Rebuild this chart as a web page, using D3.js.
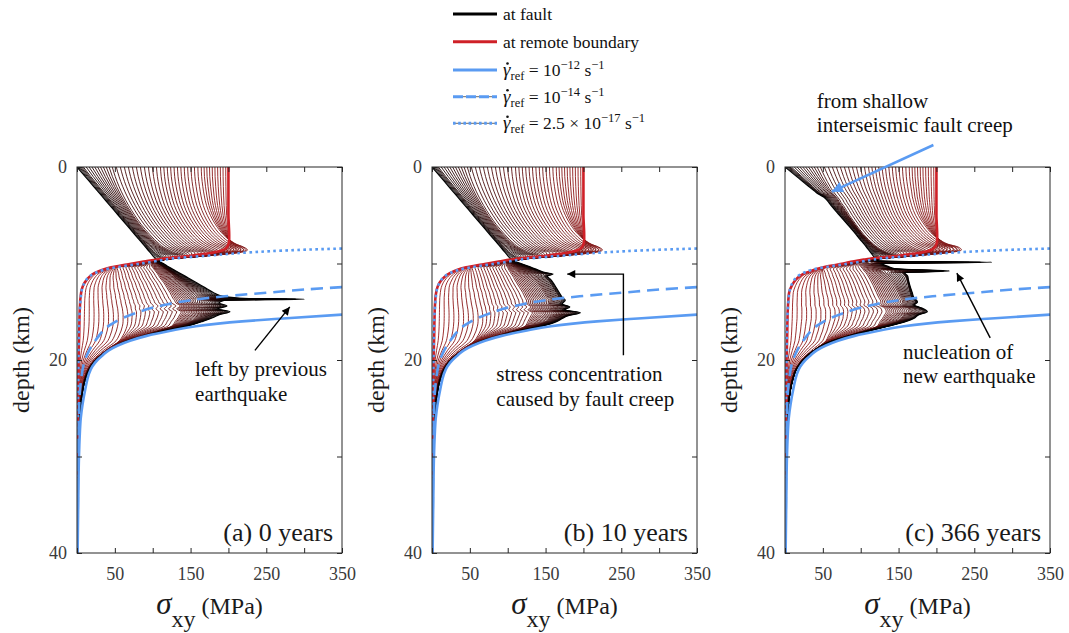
<!DOCTYPE html>
<html>
<head>
<meta charset="utf-8">
<script src="https://cdn.jsdelivr.net/npm/d3@7"></script>
<style>
  body { margin: 0; background: #fff; }
  svg { display: block; }
  text { font-family: "Liberation Serif", "Times New Roman", serif; }
</style>
</head>
<body>
<svg id="chart" width="1069" height="633"></svg>
<script>
// ---------------- Axis ticks ----------------
const stressTicks = [0, 50, 100, 150, 200, 250, 300, 350];
const stressTickLabels = [50, 150, 250, 350];
const depthTicks = [0, 10, 20, 30, 40];
const depthTickLabels = [0, 20, 40];

// ---------------- Strength curves (depth km, stress MPa) ----------------
const strength12Depth = [15.3,15.7,16.0,16.5,17.0,17.5,18.0,18.5,19.0,19.5,20.0,20.7,21.5,23.0,24.5,26.0,28.0,30.0,35.0,40.0];
const strength12Stress = [350,272,218,157,122,92,70,54,42,34,27,20,15.5,11,7.5,5,3.5,2.6,1.6,0.8];
const strength14Depth = [12.45,12.7,13.0,13.4,13.8,14.3,15.2,16.3,17.9,19.7,22,25.5,30,40];
const strength14Stress = [350,300,255,195,150,115,75,45,25,12,5.5,2.5,1.5,0.8];
const strength17Depth = [8.45,8.6,8.85,9.2,9.5,9.8,10.0,10.5,11.2,12.0,12.7,14.0,15.0,17.0,20.0,24.0,30.0,40.0];
const strength17Stress = [350,290,228,171,125,101,85,44,19,10,6.5,4.5,3.5,2.5,2,1.4,0.9,0.5];

// ---------------- Stress profiles, panel (a) 0 years ----------------
// fault, four profiles between fault and remote boundary, remote boundary
const depthA = [0,1,2,3,4,5,6,7, 7.5,8,8.3,8.6,8.9,9.2,9.5,9.8, 10.1,10.4,10.7,11,11.5,12,12.5,13, 13.3,13.6,13.7,13.8,14.1,14.4,14.7,15, 15.3,15.6,16,16.5,17,17.5,18,19, 20,21,22,24,27,30,35,40];
const faultA  = [0,10.9,21.8,32.7,43.6,54.5,65.4,76.3, 81.8,87.2,90.5,93.7,97,100.3,103.6,109, 116,122,129,136,147,158,169,180, 188,215,300,195,188,198,186,202, 188,180,166,145,115,90,68,42, 25,16,11,6,3,1.8,1,0.5];
const profA1  = [8,18,28.5,39,49.5,60,70.5,81, 86.5,92,95.5,99,103,108,114,106, 112,118,124,130,140,150,160,169, 176,195,245,186,179,189,178,191, 180,172,161,143,114,89,67,42, 25,16,11,6,3,1.8,1,0.5];
const profA2  = [45,49,54,60,67,75,84,95, 101,108,113,120,128,138,124,103, 109,114,119,124,130,137,143,149, 152,156,158,157,158,164,158,166, 161,157,151,136,111,88,67,41, 24.5,15.5,10.5,5.5,2.8,1.7,1,0.5];
const profA3  = [110,111,113,116,120,126,134,144, 150,158,164,172,182,170,124,99, 98,100,103,106,110,115,119,123, 125,127,128,129,131,137,132,138, 136,134,130,125,106,85,65,40, 24,15,10,5.5,2.8,1.7,1,0.5];
const profA4  = [165,165.5,167,169,172,177,184,194, 201,211,221,226,212,170,124,99, 76,52,53,54,55,57,58,60, 61,61.5,62,62.5,63,64,65,65.5, 66,66,66,65,63,60,56,38, 23,14,9.5,5,2.5,1.5,1,0.5];
const remoteA = [200,200,200,200,200,200,200.5,201, 201,200,198,193,178,150,112,88, 66,45,32,23,15,10,7,5.5, 5,4.6,4.4,4.3,4.1,3.9,3.7,3.5, 3.4,3.3,3.2,3.1,3,2.9,2.7,2.4, 2,1.8,1.6,1.3,1,0.8,0.6,0.4];

// ---------------- Stress profiles, panel (b) 10 years ----------------
const depthB = [0,1,2,3,4,5,6,7, 7.5,8,8.3,8.6,8.9,9.2,9.5,9.8, 10.1,10.4,10.7,10.95,11.1,11.3,11.6,12, 12.5,13,13.5,13.8,14.2,14.5,14.8,15.1, 15.4,15.7,16,16.5,17,17.5,18,19, 20,21,22,24,27,30,35,40];
const faultB  = [0,10.9,21.8,32.7,43.6,54.5,65.4,76.3, 81.8,87.2,90.5,93.7,97,100.3,103.6,110, 121,131,141,150,160,152,156,160, 164,168,172,176,172,182,175,196, 180,172,165,145,115,90,68,42, 25,16,11,6,3,1.8,1,0.5];
const profB1  = [8,18,28.5,39,49.5,60,70.5,81, 86.5,92,95.5,99,103,108,114,106, 116,126,136,144,150,148,152,156, 160,164,168,171,168,177,171,186, 176,168,161,143,114,89,67,42, 25,16,11,6,3,1.8,1,0.5];
const profB2  = [45,49,54,60,67,75,84,95, 101,108,113,120,128,138,124,103, 108,114,120,125,128,131,135,139, 144,148,152,155,154,160,155,164, 159,154,150,136,111,88,67,41, 24.5,15.5,10.5,5.5,2.8,1.7,1,0.5];
const profB3  = [110,111,113,116,120,126,134,144, 150,158,164,172,182,170,124,99, 98,100,102,104,105,107,109,112, 116,120,123,125,126,131,127,133, 131,129,127,123,106,85,65,40, 24,15,10,5.5,2.8,1.7,1,0.5];
const profB4  = [165,165.5,167,169,172,177,184,194, 201,211,221,226,212,170,124,99, 76,52,53,54,54.5,55,56,57, 58,60,61,62,63,64,65,65.5, 66,66,66,65,63,60,56,38, 23,14,9.5,5,2.5,1.5,1,0.5];
const remoteB = [200,200,200,200,200,200,200.5,201, 201,200,198,193,178,150,112,88, 66,45,32,25,21.5,18,14,10, 7,5.5,4.6,4.3,4,3.8,3.6,3.5, 3.4,3.3,3.2,3.1,3,2.9,2.7,2.4, 2,1.8,1.6,1.3,1,0.8,0.6,0.4];

// ---------------- Stress profiles, panel (c) 366 years ----------------
const depthC = [0,1,2,2.5,2.8,3.1,3.4,3.7, 4,5,6,7,7.5,8,8.3,8.6, 8.9,9.2,9.5,9.6,9.75,9.88,10,10.3, 10.55,10.78,10.95,11.3,11.7,12.3,13,13.5, 14,14.3,14.6,15,15.3,15.7,16,16.5, 17,17.5,18,19,20,21,22,24, 27,30,35,40];
const faultC  = [0,15.5,31,39,44,51,55,58, 61,72,83,94,99,104.5,107.5,110.5, 113.5,116.5,119.5,121,124,273,128,136, 146,217,158,162,163,165,168,170, 175,171,180,188,177,170,160,136, 110,86,64,39,24,15,10.5,5.5, 3,1.8,1,0.5];
const profC1  = [8,22,36,43,48,55,59,62, 65,76,87,98,103,109,112,116, 120,124,122,116,118,200,124,132, 142,180,155,159,161,163,165,167, 172,168,176,182,174,166,157,134, 109,85,64,39,24,15,10.5,5.5, 3,1.8,1,0.5];
const profC2  = [45,51,58,62,65,68,71,73, 76,84,93,103,109,116,121,127, 135,145,124,116,106,109,112,118, 123,128,131,136,140,145,150,153, 156,153,161,164,158,153,148,131, 107,84,63,38,23.5,14.5,10,5.5, 2.8,1.7,1,0.5];
const profC3  = [110,112,115,117,118.5,120,121.5,123, 124.5,130,138,148,154,162,168,176, 186,170,124,116,104,96,97,100, 103,105,107,110,113,117,121,124, 127,125,132,134,132,129,126,122, 104,83,63,38,23,14,10,5.5, 2.8,1.7,1,0.5];
const profC4  = [165,165.5,167,168,168.5,169,170,171, 172,177,185,196,204,216,230,234, 214,170,124,116,104,95,86,60, 50,51,52,53,55,57,59,61, 62,62,64,65,65,65,64,62, 60,57,54,38,23,14,9.5,5, 2.5,1.5,1,0.5];
const remoteC = [200,200,200,200,200,200,200,200, 200,200,200.5,201,201,200,198,193, 178,150,112,104,93,84,77,56, 43,34,28,19.5,14,9,5.5,4.7, 4.2,4,3.8,3.5,3.4,3.3,3.2,3.1, 3,2.9,2.7,2.4,2,1.8,1.6,1.3, 1,0.8,0.6,0.4];

// position of each profile between fault (0) and remote boundary (1)
const profileWeights = [0, 0.1, 0.3, 0.55, 0.8, 1];
const PROFILE_COUNT = 50;

const panelLabels = ['(a) 0 years', '(b) 10 years', '(c) 366 years'];

// ---------------- Layout ----------------
const TOP = 167, BOTTOM = 553, PW = 265;
const panelLefts = [77, 432, 785];
const BLUE = '#5a9bf2', RED = '#cf2027';
const SERIF = '"Liberation Serif", "Times New Roman", serif';

const svg = d3.select('#chart');
const defs = svg.append('defs');
function marker(id, color, w, h) {
  defs.append('marker').attr('id', id)
    .attr('viewBox', '0 0 10 10').attr('refX', 10).attr('refY', 5)
    .attr('markerWidth', w).attr('markerHeight', h)
    .attr('markerUnits', 'userSpaceOnUse').attr('orient', 'auto')
    .append('path').attr('d', 'M0,0 L10,5 L0,10 Z').attr('fill', color);
}
marker('headBlack', '#000', 11, 8);
marker('headBlue', BLUE, 15, 11);

const panels = [
  { depth: depthA, keys: [faultA, profA1, profA2, profA3, profA4, remoteA],
    notes: [
      { lines: ['left by previous', 'earthquake'], at: [156, 21.7], step: 2.55 }
    ],
    arrows: [ { pts: [[235, 19.0], [281, 14.5]], color: '#000', width: 1.4, head: 'headBlack' } ] },
  { depth: depthB, keys: [faultB, profB1, profB2, profB3, profB4, remoteB],
    notes: [
      { lines: ['stress concentration', 'caused by fault creep'], at: [85, 22.2], step: 2.6 }
    ],
    arrows: [ { pts: [[252.8, 19.5], [252.8, 11.1], [178.6, 11.1]], color: '#000', width: 1.4, head: 'headBlack' } ] },
  { depth: depthC, keys: [faultC, profC1, profC2, profC3, profC4, remoteC],
    notes: [
      { lines: ['from shallow', 'interseismic fault creep'], at: [42, -6.1], step: 2.5 },
      { lines: ['nucleation of', 'new earthquake'], at: [156, 19.9], step: 2.5 }
    ],
    arrows: [
      { pts: [[196, -2.28], [61.8, 2.56]], color: BLUE, width: 2.5, head: 'headBlue' },
      { pts: [[271, 17.7], [227, 11.0]], color: '#000', width: 1.4, head: 'headBlack' }
    ] }
];

const profileColor = d3.interpolateRgb('#000000', '#981c1c');

panels.forEach((p, pi) => {
  const left = panelLefts[pi];
  const x = d3.scaleLinear().domain([0, 350]).range([left, left + PW]);
  const y = d3.scaleLinear().domain([0, 40]).range([TOP, BOTTOM]);
  const g = svg.append('g');

  defs.append('clipPath').attr('id', 'clip' + pi)
    .append('rect').attr('x', left).attr('y', TOP).attr('width', PW).attr('height', BOTTOM - TOP);
  const plot = g.append('g').attr('clip-path', `url(#clip${pi})`);

  const line = d3.line().x(d => x(d[1])).y(d => y(d[0])).curve(d3.curveMonotoneY);

  // family of profiles from remote boundary towards the fault (dark drawn last)
  for (let i = PROFILE_COUNT - 2; i >= 0; i--) {
    const k = i / (PROFILE_COUNT - 1);
    let j = 0;
    while (j < profileWeights.length - 2 && k > profileWeights[j + 1]) j++;
    const t = (k - profileWeights[j]) / (profileWeights[j + 1] - profileWeights[j]);
    const a = p.keys[j], b = p.keys[j + 1];
    const pts = p.depth.map((z, m) => [z, a[m] * (1 - t) + b[m] * t]);
    plot.append('path').attr('d', line(pts))
      .attr('fill', 'none').attr('stroke', profileColor(Math.pow(k, 0.75)))
      .attr('stroke-width', i === 0 ? 1.2 : 0.9);
  }
  // remote boundary profile
  plot.append('path').attr('d', line(p.depth.map((z, m) => [z, p.keys[5][m]])))
    .attr('fill', 'none').attr('stroke', RED).attr('stroke-width', 2.6);

  // strength curves
  const strength = [
    { d: strength12Depth, s: strength12Stress, dash: null },
    { d: strength14Depth, s: strength14Stress, dash: '12,7' },
    { d: strength17Depth, s: strength17Stress, dash: '2.6,3.4' }
  ];
  strength.forEach(c => {
    plot.append('path').attr('d', line(c.d.map((z, m) => [z, c.s[m]])))
      .attr('fill', 'none').attr('stroke', BLUE).attr('stroke-width', 2.6)
      .attr('stroke-dasharray', c.dash);
  });

  // axes box and ticks
  const styleAxis = sel => {
    sel.select('.domain').remove();
    sel.selectAll('line').attr('stroke', '#262626');
    sel.selectAll('text').attr('font-family', SERIF)
      .attr('font-size', 18).attr('fill', '#3a3a3a');
    sel.attr('font-family', null).attr('font-size', null);
  };
  g.append('g').attr('transform', `translate(0,${BOTTOM})`)
    .call(d3.axisBottom(x).tickValues(stressTicks).tickSizeInner(-5).tickSizeOuter(0).tickPadding(14)
      .tickFormat(v => stressTickLabels.includes(v) ? v : ''))
    .call(styleAxis);
  g.append('g').attr('transform', `translate(0,${TOP})`)
    .call(d3.axisTop(x).tickValues(stressTicks).tickSizeInner(-5).tickSizeOuter(0).tickFormat(''))
    .call(styleAxis);
  g.append('g').attr('transform', `translate(${left},0)`)
    .call(d3.axisLeft(y).tickValues(depthTicks).tickSizeInner(-5).tickSizeOuter(0).tickPadding(10)
      .tickFormat(v => depthTickLabels.includes(v) ? v : ''))
    .call(styleAxis);
  g.append('g').attr('transform', `translate(${left + PW},0)`)
    .call(d3.axisRight(y).tickValues(depthTicks).tickSizeInner(-5).tickSizeOuter(0).tickFormat(''))
    .call(styleAxis);
  g.append('rect').attr('x', left).attr('y', TOP).attr('width', PW).attr('height', BOTTOM - TOP)
    .attr('fill', 'none').attr('stroke', '#262626').attr('stroke-width', 1);

  // panel label
  g.append('text').attr('x', x(350) - 9).attr('y', 541).attr('font-family', SERIF)
    .attr('text-anchor', 'end').attr('font-size', 26).attr('fill', '#1a1a1a')
    .text(panelLabels[pi]);

  // depth label
  g.append('text').attr('transform', `translate(${left - 48},360) rotate(-90)`)
    .attr('font-family', SERIF)
    .attr('text-anchor', 'middle').attr('font-size', 24).attr('fill', '#1a1a1a')
    .text('depth (km)');

  // stress label
  const xl = g.append('text').attr('x', left + PW / 2).attr('y', 614).attr('font-family', SERIF)
    .attr('text-anchor', 'middle').attr('fill', '#1a1a1a');
  xl.append('tspan').attr('font-size', 31).attr('font-style', 'italic').text('σ');
  xl.append('tspan').attr('font-size', 24).attr('dy', 13).text('xy');
  xl.append('tspan').attr('font-size', 24).attr('dy', -13).text(' (MPa)');

  // annotations
  p.arrows.forEach(a => {
    g.append('path')
      .attr('d', d3.line().x(d => x(d[0])).y(d => y(d[1]))(a.pts))
      .attr('fill', 'none').attr('stroke', a.color).attr('stroke-width', a.width)
      .attr('marker-end', `url(#${a.head})`);
  });
  p.notes.forEach(n => {
    n.lines.forEach((t, li) => {
      g.append('text').attr('x', x(n.at[0])).attr('y', y(n.at[1] + li * n.step))
        .attr('font-family', SERIF)
        .attr('font-size', 21).attr('fill', '#111').text(t);
    });
  });
});

// ---------------- Legend ----------------
const legendRows = [
  { y: 14, stroke: '#000', dash: null, label: [['at fault', 'n']] },
  { y: 41.7, stroke: RED, dash: null, label: [['at remote boundary', 'n']] },
  { y: 70, stroke: BLUE, dash: null,
    label: [['γ', 'i'], ['ref', 'sub'], [' = 10', 'n'], ['−12', 'sup'], [' s', 'n'], ['−1', 'sup']] },
  { y: 96.7, stroke: BLUE, dash: '10,3', guide: true,
    label: [['γ', 'i'], ['ref', 'sub'], [' = 10', 'n'], ['−14', 'sup'], [' s', 'n'], ['−1', 'sup']] },
  { y: 123.3, stroke: BLUE, dash: '2.6,2.6', guide: true,
    label: [['γ', 'i'], ['ref', 'sub'], [' = 2.5 × 10', 'n'], ['−17', 'sup'], [' s', 'n'], ['−1', 'sup']] }
];
const legend = svg.append('g');
legendRows.forEach(r => {
  if (r.guide) {
    legend.append('line').attr('x1', 453).attr('x2', 497).attr('y1', r.y).attr('y2', r.y)
      .attr('stroke', '#444').attr('stroke-width', 0.8);
  }
  legend.append('line').attr('x1', 453).attr('x2', 497).attr('y1', r.y).attr('y2', r.y)
    .attr('stroke', r.stroke).attr('stroke-width', 3).attr('stroke-dasharray', r.dash);
  const t = legend.append('text').attr('x', 503).attr('y', r.y + 6)
    .attr('font-family', SERIF).attr('font-size', 17.5).attr('fill', '#111');
  let shift = 0;
  r.label.forEach(([s, kind]) => {
    const sp = t.append('tspan').text(s);
    if (kind === 'i') sp.attr('font-style', 'italic').attr('font-size', 19);
    if (kind === 'sub') { sp.attr('font-size', 12.5).attr('dy', 4 - shift); shift = 4; }
    else if (kind === 'sup') { sp.attr('font-size', 12.5).attr('dy', -7 - shift); shift = -7; }
    else if (shift !== 0) { sp.attr('dy', -shift); shift = 0; }
  });
  // time-derivative dot over the strain-rate symbol
  if (r.label[0][1] === 'i') {
    const box = t.node().getExtentOfChar(0);
    legend.append('circle')
      .attr('cx', box.x + box.width * 0.6).attr('cy', r.y - 6.5)
      .attr('r', 1.3).attr('fill', '#111');
  }
});
</script>
</body>
</html>
